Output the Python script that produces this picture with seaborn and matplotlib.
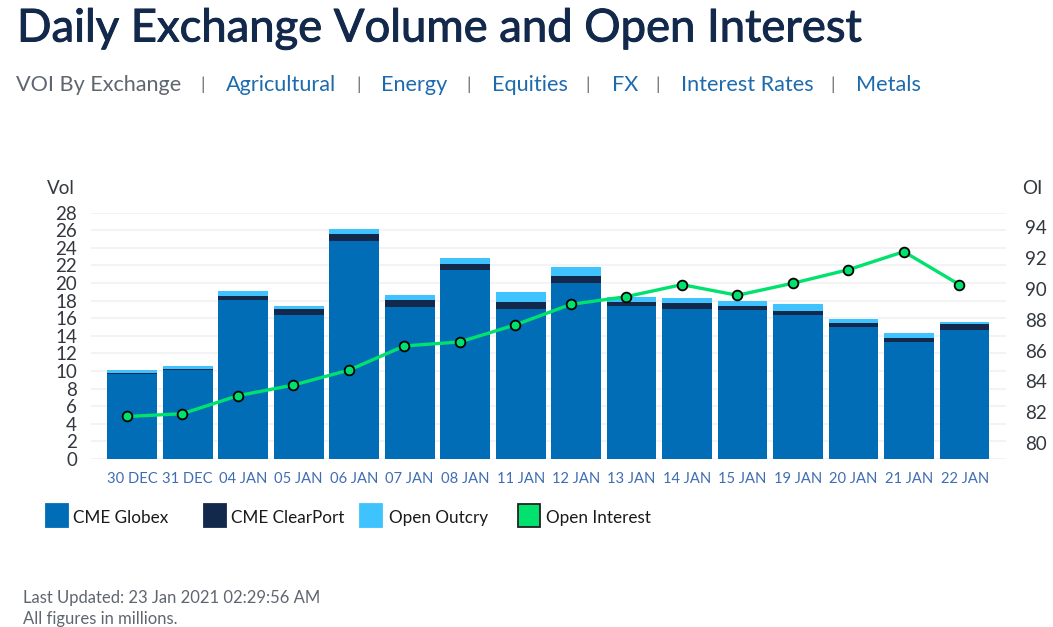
import matplotlib
matplotlib.use('Agg')
import matplotlib.pyplot as plt
import matplotlib.patheffects as pe
from matplotlib.patches import Rectangle
import numpy as np
import pandas as pd
import seaborn as sns

dates = ['30 DEC', '31 DEC', '04 JAN', '05 JAN', '06 JAN', '07 JAN', '08 JAN', '11 JAN',
         '12 JAN', '13 JAN', '14 JAN', '15 JAN', '19 JAN', '20 JAN', '21 JAN', '22 JAN']
globex = [9.62, 10.08, 18.10, 16.40, 24.73, 17.27, 21.48, 17.05,
          19.96, 17.42, 17.08, 16.90, 16.40, 15.04, 13.33, 14.70]
clearport = [0.11, 0.15, 0.46, 0.65, 0.87, 0.83, 0.68, 0.79,
             0.84, 0.46, 0.65, 0.52, 0.46, 0.46, 0.46, 0.68]
outcry = [0.37, 0.34, 0.53, 0.34, 0.54, 0.50, 0.68, 1.10,
          1.02, 0.53, 0.53, 0.50, 0.72, 0.37, 0.53, 0.19]
open_interest = [81.72, 81.90, 83.07, 83.76, 84.73, 86.30, 86.56, 87.67,
                 89.00, 89.50, 90.28, 89.59, 90.37, 91.25, 92.42, 90.28]
vol_ticks = list(range(0, 29, 2))
oi_ticks = list(range(80, 95, 2))
nav_links = ['Agricultural', 'Energy', 'Equities', 'FX', 'Interest Rates', 'Metals']

BLUE = '#006DB6'
NAVY = '#12294B'
SKY = '#3EC3FF'
GREEN = '#00E16D'
W, H = 1053, 627

sns.set_style('white')
plt.rcParams['font.family'] = ['Lato', 'DejaVu Sans']

df = pd.DataFrame({'date': dates, 'globex': globex, 'clearport': clearport, 'outcry': outcry})
df['mid'] = df['globex'] + df['clearport']
df['total'] = df['mid'] + df['outcry']

fig = plt.figure(figsize=(W / 100, H / 100), dpi=100)
ax = fig.add_axes([91 / W, 1 - 459 / H, 915 / W, 246.3 / H])

# stacked look: tallest layer first, then paint the lower ones over it
for col, colour in [('total', SKY), ('mid', NAVY), ('globex', BLUE)]:
    sns.barplot(data=df, x='date', y=col, color=colour, saturation=1, width=0.895,
                errorbar=None, ax=ax, zorder=2, linewidth=0)
ax.set_xlim(-0.742, 15.745)
ax.set_ylim(0, 28)
ax.set_yticks(vol_ticks)
ax.set_xlabel('')
ax.set_ylabel('')
ax.grid(axis='y', color='#F2F2F2', linewidth=1.3, zorder=0)
ax.set_axisbelow(True)
ax.tick_params(axis='y', length=0, pad=10, labelsize=13.5, labelcolor='#33383F')
ax.tick_params(axis='x', length=0, pad=9.5, labelsize=10.6, labelcolor='#3F6DB3')
sns.despine(ax=ax, left=True, bottom=True)

ax2 = ax.twinx()
ax2.set_zorder(ax.get_zorder() + 1)
sns.lineplot(x=np.arange(len(dates)) - 0.095, y=open_interest, ax=ax2, color=GREEN, linewidth=2.4,
             marker='o', markersize=7, markerfacecolor=GREEN, markeredgecolor='black',
             markeredgewidth=1.3, estimator=None, sort=False, legend=False)
ax2.set_ylim(78.96, 94.95)
ax2.set_yticks(oi_ticks)
ax2.tick_params(axis='y', length=0, pad=14, labelsize=13.5, labelcolor='#33383F')
ax2.grid(False)
sns.despine(ax=ax2, left=True, bottom=True, right=True)


def put(x, y, s, **kw):
    return fig.text(x / W, 1 - y / H, s, va='center', **kw)


title = put(17, 29, 'Daily Exchange Volume and Open Interest', fontsize=32.7, color=NAVY)
title.set_path_effects([pe.withStroke(linewidth=0.7, foreground=NAVY)])
put(16, 85, 'VOI By Exchange', fontsize=15.6, color='#5F6670')
for x, s in zip([226, 381, 492, 612, 681, 856], nav_links):
    put(x, 85, s, fontsize=15.6, color='#1D6BAE')
for x in [203, 359, 469, 588, 658, 833]:
    put(x, 85, '|', fontsize=13, color='#6E6E6E', ha='center')

put(47, 189, 'Vol', fontsize=13.5, color='#33383F')
put(1022, 189, 'OI', fontsize=13.5, color='#33383F')

legend_items = [(46, 73, 'CME Globex', BLUE, None), (204, 231, 'CME ClearPort', NAVY, None),
                (360, 389, 'Open Outcry', SKY, None), (518, 546, 'Open Interest', GREEN, '#222222')]
for sx, tx, label, colour, edge in legend_items:
    fig.add_artist(Rectangle((sx / W, 1 - 527 / H), 22 / W, 23 / H, transform=fig.transFigure,
                             facecolor=colour, edgecolor=edge or colour, linewidth=1.3))
    put(tx, 518, label, fontsize=12.3, color='#1A1A1A')

put(23, 598, 'Last Updated: 23 Jan 2021 02:29:56 AM', fontsize=12, color='#5F6670')
put(23, 619, 'All figures in millions.', fontsize=12, color='#5F6670')

fig.savefig('out.png', dpi=100)
